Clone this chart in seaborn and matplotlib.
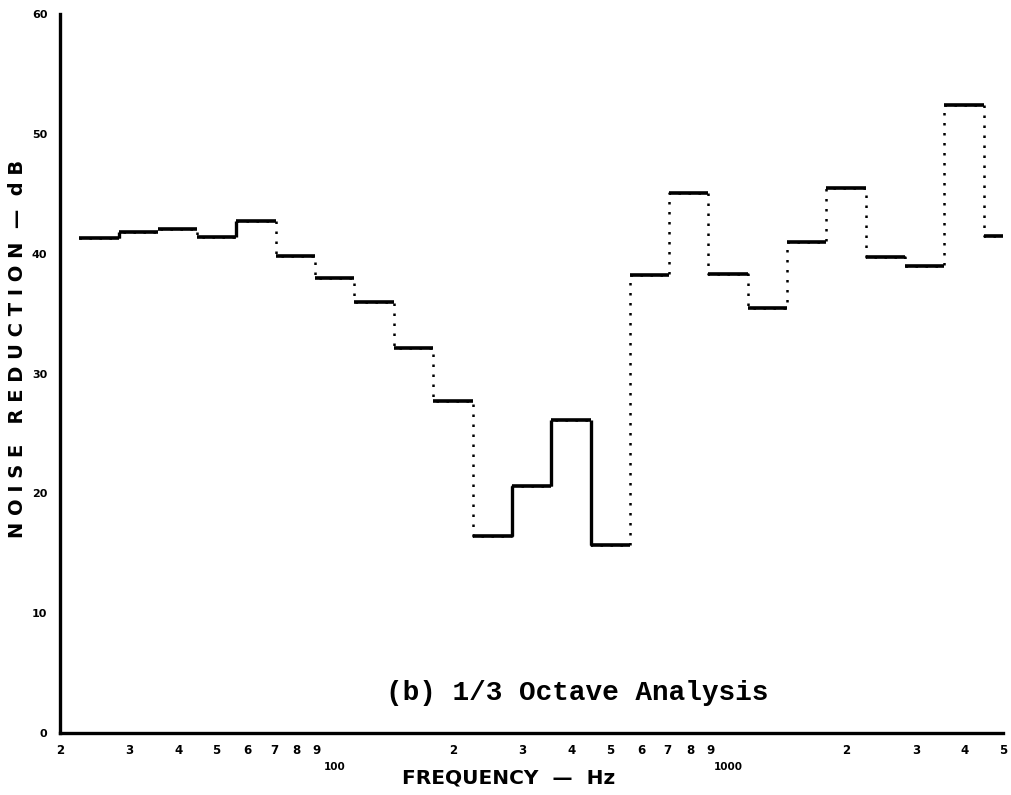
import numpy as np
import pandas as pd
import matplotlib
matplotlib.use("Agg")
import matplotlib.pyplot as plt
import seaborn as sns

# 1/3 octave band edges (Hz) and noise reduction per band (dB)
band_edges = [22.4, 28.2, 35.5, 44.7, 56.2, 70.8, 89.1, 112, 141, 178, 224, 282,
              355, 447, 562, 708, 891, 1122, 1413, 1778, 2239, 2818, 3548, 4467, 5000]
band_levels = [41.3, 41.8, 42.1, 41.4, 42.7, 39.8, 38.0, 36.0, 32.1, 27.7, 16.4, 20.6,
               26.1, 15.7, 38.2, 45.1, 38.3, 35.5, 41.0, 45.5, 39.7, 39.0, 52.4, 41.5]

# risers drawn solid (index of the band on the left of the riser)
solid_risers = [0, 3, 10, 11, 12]

y_ticks = [0, 10, 20, 30, 40, 50, 60]
x_major = [100, 1000]
x_major_labels = ["100", "1000"]
x_minor = [20, 30, 40, 50, 60, 70, 80, 90, 200, 300, 400, 500, 600, 700, 800, 900,
           2000, 3000, 4000, 5000]
x_minor_labels = ["2", "3", "4", "5", "6", "7", "8", "9", "2", "3", "4", "5", "6", "7",
                  "8", "9", "2", "3", "4", "5"]

sns.set_style("white")
plt.rcParams["font.family"] = ["DejaVu Sans"]
plt.rcParams["text.color"] = "black"

df = pd.DataFrame({"freq": band_edges, "nr": band_levels + [band_levels[-1]]})

fig = plt.figure(figsize=(10.12, 7.95), dpi=100)
ax = fig.add_axes([60 / 1012, 1 - 733 / 795, 943 / 1012, 719 / 795])

# dotted staircase (risers), then solid treads on top
sns.lineplot(data=df, x="freq", y="nr", drawstyle="steps-post", color="black",
             linewidth=1.8, linestyle=(0, (1, 3)), ax=ax)
ax.hlines(band_levels, band_edges[:-1], band_edges[1:], color="black", linewidth=2.6)
for i in solid_risers:
    ax.vlines(band_edges[i + 1], band_levels[i], band_levels[i + 1], color="black",
              linewidth=2.4)

ax.set_xscale("log")
ax.set_xlim(20, 5000)
ax.set_ylim(0, 60)

ax.set_xticks(x_major)
ax.set_xticklabels(x_major_labels)
ax.set_xticks(x_minor, minor=True)
ax.set_xticklabels(x_minor_labels, minor=True)
ax.set_yticks(y_ticks)
ax.set_yticklabels([str(v) for v in y_ticks])

ax.tick_params(axis="x", which="major", direction="out", length=11, width=1.8,
               pad=10, labelsize=7.5, colors="black")
ax.tick_params(axis="x", which="minor", direction="out", length=5, width=1.8,
               pad=3, labelsize=8.5, colors="black")
ax.tick_params(axis="y", direction="out", length=4, width=1.8, pad=5,
               labelsize=8, colors="black")
for lab in ax.get_xticklabels(which="both") + ax.get_yticklabels():
    lab.set_fontweight("bold")

for side in ["top", "right"]:
    ax.spines[side].set_visible(False)
for side in ["left", "bottom"]:
    ax.spines[side].set_linewidth(2.4)
    ax.spines[side].set_color("black")

ax.set_xlabel("FREQUENCY  —  Hz", fontsize=14.5, fontweight="bold", color="black")
ax.xaxis.set_label_coords(0.476, -0.05)
ax.set_ylabel("N O I S E   R E D U C T I O N  —  d B", fontsize=14,
              fontweight="bold", color="black")
ax.yaxis.set_label_coords(-0.045, 0.534)
ax.yaxis.label.set_va("center")

ax.text(0.548, 0.046, "(b) 1/3 Octave Analysis", transform=ax.transAxes,
        ha="center", va="baseline", fontsize=20, fontweight="bold", color="black",
        family=["Liberation Mono", "DejaVu Sans Mono"])

fig.savefig("out.png", dpi=100, facecolor="white")
